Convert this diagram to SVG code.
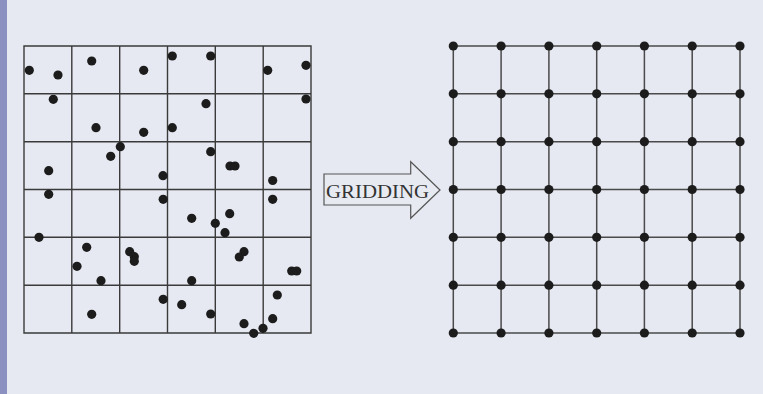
<svg xmlns="http://www.w3.org/2000/svg" width="763" height="394" viewBox="0 0 763 394">
  <style>
    .grid { fill: none; stroke: #3a3a3a; stroke-width: 1.4; }
    .mesh { stroke: #4a4a4a; stroke-width: 1.5; fill: none; }
    .pt { fill: #1c1c1c; }
    .label { font-family: "Liberation Serif", "DejaVu Serif", serif; font-size: 19px; fill: #333; }
    .arrow { fill: #e8eaf2; stroke: #555; stroke-width: 1.2; }
  </style>
  <defs>
    <circle id="dot" r="4.6" class="pt"/>
  </defs>

  <!-- background and side bar -->
  <rect x="0" y="0" width="763" height="394" fill="#e6e9f2"/>
  <rect x="0" y="0" width="7" height="394" fill="#8a90c0"/>

  <!-- scattered points over a 6x6 cell grid -->
  <g id="scatter">
    <path class="grid" d="M24 46H311V333H24Z M71.8 46V333 M119.7 46V333 M167.5 46V333 M215.3 46V333 M263.2 46V333 M24 93.8H311 M24 141.7H311 M24 189.5H311 M24 237.3H311 M24 285.2H311"/>
    <g>
      <use href="#dot" x="29.3" y="70.3"/>
      <use href="#dot" x="58" y="75"/>
      <use href="#dot" x="91.7" y="61"/>
      <use href="#dot" x="143.7" y="70.3"/>
      <use href="#dot" x="172.3" y="56"/>
      <use href="#dot" x="210.7" y="56"/>
      <use href="#dot" x="267.7" y="70.3"/>
      <use href="#dot" x="306" y="65.3"/>
      <use href="#dot" x="53.3" y="99.3"/>
      <use href="#dot" x="206" y="103.7"/>
      <use href="#dot" x="306" y="99"/>
      <use href="#dot" x="96" y="127.7"/>
      <use href="#dot" x="143.7" y="132.3"/>
      <use href="#dot" x="172.3" y="127.7"/>
      <use href="#dot" x="120.3" y="146.7"/>
      <use href="#dot" x="110.7" y="156.3"/>
      <use href="#dot" x="210.7" y="151.7"/>
      <use href="#dot" x="230" y="166"/>
      <use href="#dot" x="235" y="166"/>
      <use href="#dot" x="48.7" y="170.7"/>
      <use href="#dot" x="163" y="175.7"/>
      <use href="#dot" x="272.7" y="180.5"/>
      <use href="#dot" x="48.7" y="194.3"/>
      <use href="#dot" x="163.2" y="199.3"/>
      <use href="#dot" x="272.7" y="199.3"/>
      <use href="#dot" x="191.7" y="218.3"/>
      <use href="#dot" x="229.7" y="213.7"/>
      <use href="#dot" x="215.3" y="223.3"/>
      <use href="#dot" x="225" y="232.7"/>
      <use href="#dot" x="39" y="237.3"/>
      <use href="#dot" x="86.7" y="247.3"/>
      <use href="#dot" x="129.7" y="251.7"/>
      <use href="#dot" x="134.3" y="256.7"/>
      <use href="#dot" x="134.3" y="261.3"/>
      <use href="#dot" x="244" y="251.7"/>
      <use href="#dot" x="239.3" y="257"/>
      <use href="#dot" x="77" y="266.3"/>
      <use href="#dot" x="101" y="280.7"/>
      <use href="#dot" x="191.7" y="280.7"/>
      <use href="#dot" x="291.7" y="271"/>
      <use href="#dot" x="296.7" y="271"/>
      <use href="#dot" x="163.2" y="299.3"/>
      <use href="#dot" x="277.3" y="295"/>
      <use href="#dot" x="181.7" y="304.7"/>
      <use href="#dot" x="91.7" y="314.3"/>
      <use href="#dot" x="210.7" y="314"/>
      <use href="#dot" x="272.7" y="318.7"/>
      <use href="#dot" x="244" y="323.7"/>
      <use href="#dot" x="263" y="328.3"/>
      <use href="#dot" x="253.7" y="333.3"/>
    </g>
  </g>

  <!-- block arrow with label -->
  <g id="gridding">
    <path class="arrow" d="M324 174H410.7V161.7L440 190L410.7 218.3V205H324Z"/>
    <text class="label" x="326" y="197.5" textLength="103" lengthAdjust="spacingAndGlyphs">GRIDDING</text>
  </g>

  <!-- regular mesh with nodes at every intersection -->
  <g id="mesh">
    <path class="mesh" d="M453.3 46H740 M453.3 93.8H740 M453.3 141.7H740 M453.3 189.5H740 M453.3 237.3H740 M453.3 285.2H740 M453.3 333H740 M453.3 46V333 M501.1 46V333 M548.9 46V333 M596.7 46V333 M644.4 46V333 M692.2 46V333 M740 46V333"/>
    <g id="mesh-nodes">
      <g transform="translate(0,46)">
        <use href="#dot" x="453.3"/><use href="#dot" x="501.1"/><use href="#dot" x="548.9"/><use href="#dot" x="596.7"/><use href="#dot" x="644.4"/><use href="#dot" x="692.2"/><use href="#dot" x="740"/>
      </g>
      <g transform="translate(0,93.8)">
        <use href="#dot" x="453.3"/><use href="#dot" x="501.1"/><use href="#dot" x="548.9"/><use href="#dot" x="596.7"/><use href="#dot" x="644.4"/><use href="#dot" x="692.2"/><use href="#dot" x="740"/>
      </g>
      <g transform="translate(0,141.7)">
        <use href="#dot" x="453.3"/><use href="#dot" x="501.1"/><use href="#dot" x="548.9"/><use href="#dot" x="596.7"/><use href="#dot" x="644.4"/><use href="#dot" x="692.2"/><use href="#dot" x="740"/>
      </g>
      <g transform="translate(0,189.5)">
        <use href="#dot" x="453.3"/><use href="#dot" x="501.1"/><use href="#dot" x="548.9"/><use href="#dot" x="596.7"/><use href="#dot" x="644.4"/><use href="#dot" x="692.2"/><use href="#dot" x="740"/>
      </g>
      <g transform="translate(0,237.3)">
        <use href="#dot" x="453.3"/><use href="#dot" x="501.1"/><use href="#dot" x="548.9"/><use href="#dot" x="596.7"/><use href="#dot" x="644.4"/><use href="#dot" x="692.2"/><use href="#dot" x="740"/>
      </g>
      <g transform="translate(0,285.2)">
        <use href="#dot" x="453.3"/><use href="#dot" x="501.1"/><use href="#dot" x="548.9"/><use href="#dot" x="596.7"/><use href="#dot" x="644.4"/><use href="#dot" x="692.2"/><use href="#dot" x="740"/>
      </g>
      <g transform="translate(0,333)">
        <use href="#dot" x="453.3"/><use href="#dot" x="501.1"/><use href="#dot" x="548.9"/><use href="#dot" x="596.7"/><use href="#dot" x="644.4"/><use href="#dot" x="692.2"/><use href="#dot" x="740"/>
      </g>
    </g>
  </g>
</svg>
